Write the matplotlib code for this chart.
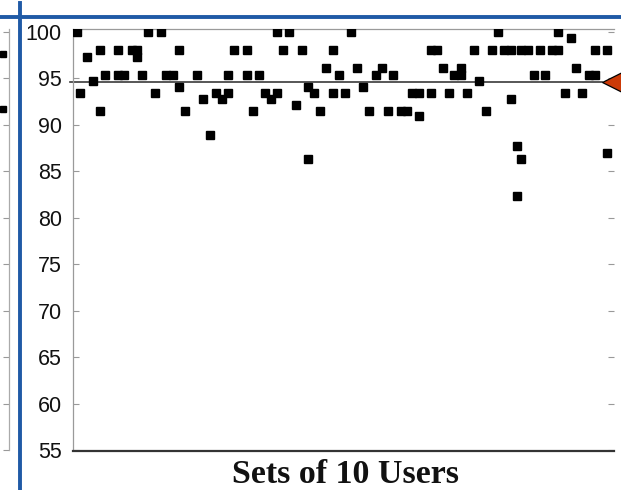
import matplotlib
matplotlib.use("Agg")
import matplotlib.pyplot as plt
from matplotlib.lines import Line2D

# ---- data ----
set_index = [1.0, 1.5, 2.7, 3.6, 4.7, 4.7, 5.6, 7.7, 7.7, 8.7, 9.9, 10.7, 10.7, 11.5,
             12.6, 13.6, 14.6, 15.5, 16.5, 17.6, 17.6, 18.5, 20.5, 21.5, 22.6, 23.5,
             24.5, 25.4, 25.4, 26.5, 28.5, 28.5, 29.5, 30.5, 31.4, 32.4, 33.4, 33.4,
             34.4, 35.4, 36.5, 37.5, 38.4, 38.4, 39.4, 40.4, 41.3, 42.4, 42.4, 43.4,
             44.4, 45.4, 46.3, 47.3, 48.3, 49.4, 50.4, 51.4, 52.2, 53.4, 54.4, 55.3,
             56.3, 56.3, 58.3, 58.3, 59.3, 60.2, 61.2, 62.1, 63.1, 63.1, 64.2, 65.2,
             66.1, 67.2, 68.2, 69.2, 70.1, 71.2, 71.2, 72.2, 72.2, 72.9, 72.9, 74.0,
             74.9, 75.9, 76.8, 77.9, 78.9, 78.9, 80.0, 80.9, 81.8, 82.7, 83.8, 84.8,
             84.8, 86.8, 86.8]
accuracy = [100, 93.4, 97.3, 94.7, 98.0, 91.5, 95.4, 98.0, 95.4, 95.4, 98.0, 98.0, 97.3, 95.4,
            100, 93.4, 100, 95.4, 95.4, 98.0, 94.1, 91.5, 95.4, 92.8, 88.9, 93.4,
            92.8, 93.4, 95.4, 98.0, 98.0, 95.4, 91.5, 95.4, 93.4, 92.8, 93.4, 100,
            98.0, 100, 92.1, 98.0, 94.1, 86.3, 93.4, 91.5, 96.1, 98.0, 93.4, 95.4,
            93.4, 100, 96.1, 94.1, 91.5, 95.4, 96.1, 91.5, 95.4, 91.5, 91.5, 93.4,
            93.4, 90.9, 98.0, 93.4, 98.0, 96.1, 93.4, 95.4, 95.4, 96.1, 93.4, 98.0,
            94.7, 91.5, 98.0, 100, 98.0, 98.0, 92.8, 87.7, 82.4, 98.0, 86.3, 98.0,
            95.4, 98.0, 95.4, 98.0, 98.0, 100, 93.4, 99.3, 96.1, 93.4, 95.4, 98.0,
            95.4, 98.0, 87.0]

left_panel_index = [86.9, 86.9]
left_panel_values = [97.6, 91.7]

threshold = 94.65
y_ticks = [55, 60, 65, 70, 75, 80, 85, 90, 95, 100]
x_label = "Sets of 10 Users"

# ---- figure ----
W, H = 621, 490
fig = plt.figure(figsize=(W / 100, H / 100), dpi=100)

def px_rect(x0, y0, x1, y1):
    return [x0 / W, 1 - y1 / H, (x1 - x0) / W, (y1 - y0) / H]

XLIM = (0.4, 87.92)
YLIM = (55, 100.3)

# partial left panel
axl = fig.add_axes(px_rect(9 - 541, 29, 9, 450.5))
axl.plot(left_panel_index, left_panel_values, 's', color='black', markersize=5, clip_on=True)
axl.set_xlim(*XLIM)
axl.set_ylim(*YLIM)
for s in ['left', 'top', 'bottom']:
    axl.spines[s].set_visible(False)
axl.spines['right'].set_color('#aaaaaa')
axl.spines['right'].set_linewidth(0.9)
axl.yaxis.set_ticks_position('right')
axl.set_yticks(y_ticks)
axl.tick_params(axis='y', direction='in', length=4, color='#999999', labelright=False)
axl.set_xticks([])

# main panel
ax = fig.add_axes(px_rect(73, 29, 614, 450.5))
ax.plot(set_index, accuracy, 's', color='black', markersize=5.1, zorder=3)
ax.set_xlim(*XLIM)
ax.set_ylim(*YLIM)
ax.set_xticks([])
ax.set_yticks(y_ticks)
ax.set_yticklabels([str(t) for t in y_ticks], fontsize=15.5,
                   fontfamily='Liberation Sans', color='#111111')
ax.tick_params(axis='y', which='both', direction='in', length=4, width=0.8,
               color='#999999', pad=8, left=True, right=True)
ax.spines['right'].set_visible(False)
ax.spines['left'].set_color('#9a9a9a')
ax.spines['left'].set_linewidth(0.9)
ax.spines['top'].set_color('#9a9a9a')
ax.spines['top'].set_linewidth(0.9)
ax.spines['bottom'].set_color('#333333')
ax.spines['bottom'].set_linewidth(1.6)

ax.axhline(threshold, xmin=-0.006, xmax=0.977, color='#3a3a3a', linewidth=1.2,
           clip_on=False, zorder=2)
ax.plot([0.9963], [threshold], marker='<', markersize=14.5, color='#cc3a08',
        markeredgecolor='black', markeredgewidth=0.9,
        transform=ax.get_yaxis_transform(), clip_on=False, zorder=4)

fig.text(345.5 / W, 1 - 482.5 / H, x_label, ha='center', va='baseline',
         fontsize=24.5, fontweight='bold', fontfamily='Liberation Serif', color='#111111')

# blue frame lines
blue = '#1f5aa6'
fig.add_artist(Line2D([0, 1], [1 - 17 / H, 1 - 17 / H], color=blue, linewidth=2.8,
                      transform=fig.transFigure))
fig.add_artist(Line2D([20 / W, 20 / W], [0, 1 - 3 / H], color=blue, linewidth=2.8,
                      transform=fig.transFigure))

fig.savefig("out.png", dpi=100)
